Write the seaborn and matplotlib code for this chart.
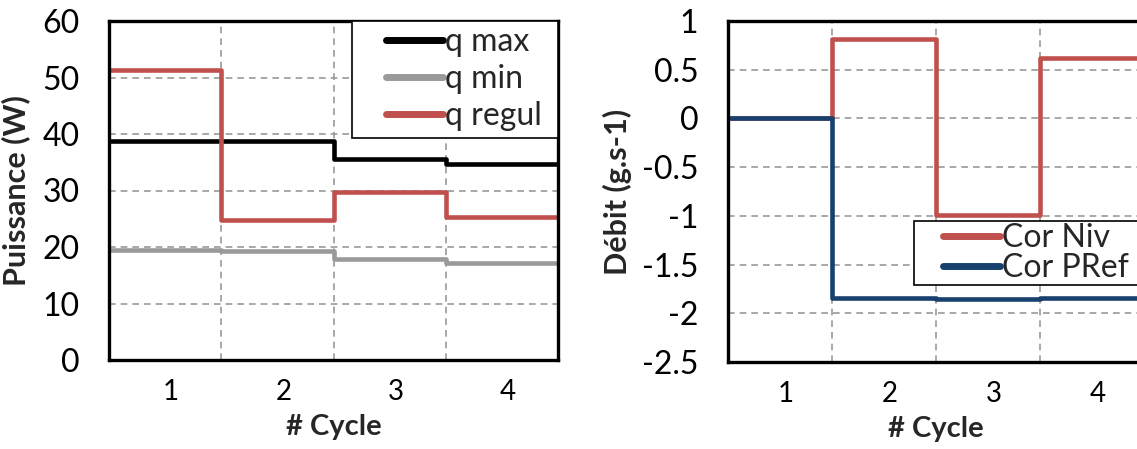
import numpy as np
import pandas as pd
import matplotlib
matplotlib.use("Agg")
import matplotlib.pyplot as plt
import matplotlib.transforms as mtransforms
from matplotlib.offsetbox import DrawingArea
import seaborn as sns

# data (one value per cycle)
cycles = [1, 2, 3, 4]
q_max = [38.8, 38.7, 35.5, 34.7]
q_min = [19.4, 19.3, 17.8, 17.2]
q_regul = [51.3, 24.8, 29.8, 25.3]
cor_niv = [0.0, 0.82, -0.99, 0.62]
cor_pref = [0.0, -1.84, -1.85, -1.84]

left_names = ["q max", "q min", "q regul"]
left_colors = {"q max": "#000000", "q min": "#9a9a9a", "q regul": "#c0504d"}
right_names = ["Cor Niv", "Cor PRef"]
right_colors = {"Cor Niv": "#c0504d", "Cor PRef": "#17406d"}


def step_frame(series):
    # each cycle value spans from cycle-0.5 to cycle+0.5
    edges = [c - 0.5 for c in cycles] + [cycles[-1] + 0.5]
    rows = []
    for name, vals in series.items():
        ys = list(vals) + [vals[-1]]
        for x, y in zip(edges, ys):
            rows.append({"cycle": x, "value": y, "serie": name})
    return pd.DataFrame(rows)


sns.set_theme(style="white")
plt.rcParams["font.family"] = ["Lato", "DejaVu Sans"]
FS = 23

fig = plt.figure(figsize=(11.37, 4.49), dpi=100)
W, H = 1137, 449
ax1 = fig.add_axes([109 / W, (H - 360) / H, 449 / W, 339 / H])
ax2 = fig.add_axes([727.5 / W, (H - 362) / H, 416 / W, 341 / H])

df1 = step_frame({"q max": q_max, "q min": q_min, "q regul": q_regul})
df2 = step_frame({"Cor Niv": cor_niv, "Cor PRef": cor_pref})

for name in left_names:
    sns.lineplot(data=df1[df1["serie"] == name], x="cycle", y="value", ax=ax1,
                 color=left_colors[name], lw=3.3, drawstyle="steps-post",
                 label=name, estimator=None, sort=False)
for name in right_names:
    sns.lineplot(data=df2[df2["serie"] == name], x="cycle", y="value", ax=ax2,
                 color=right_colors[name], lw=3.3, drawstyle="steps-post",
                 label=name, estimator=None, sort=False)

ax1.set_ylim(0, 60)
ax1.set_yticks(np.arange(0, 61, 10))
ax2.set_ylim(-2.5, 1)
ax2.set_yticks([-2.5, -2, -1.5, -1, -0.5, 0, 0.5, 1])
ax2.set_yticklabels(["-2.5", "-2", "-1.5", "-1", "-0.5", "0", "0.5", "1"])

shift = mtransforms.ScaledTranslation(0.06, 0, fig.dpi_scale_trans)
for ax in (ax1, ax2):
    ax.set_xlim(0.5, 4.5)
    ax.set_xticks(cycles)
    ax.set_xticks([1.5, 2.5, 3.5], minor=True)
    ax.grid(False)
    ax.grid(True, axis="y", which="major", ls=(0, (4, 3)), color="#9a9a9a", lw=1.2)
    ax.grid(True, axis="x", which="minor", ls=(0, (4, 3)), color="#9a9a9a", lw=1.2)
    ax.tick_params(axis="y", length=0, pad=21, labelsize=FS, colors="black")
    ax.tick_params(axis="x", which="both", length=0, pad=14, labelsize=FS - 3, colors="black")
    for lbl in ax.get_xticklabels():
        lbl.set_transform(lbl.get_transform() + shift)
    for s in ax.spines.values():
        s.set_visible(True)
        s.set_color("black")
        s.set_linewidth(2.4)
    ax.set_xlabel("# Cycle", fontsize=FS - 2, fontweight="bold", labelpad=6)

ax1.set_ylabel("Puissance (W)", fontsize=FS - 1, fontweight="bold", labelpad=9)
ax2.set_ylabel("Débit (g.s-1)", fontsize=FS - 1, fontweight="bold", labelpad=7)

leg_kw = dict(fontsize=FS, frameon=True, fancybox=False, framealpha=1,
              edgecolor="black", handlelength=2.65, handletextpad=0.05,
              borderaxespad=0)
leg1 = ax1.legend(loc="upper right", bbox_to_anchor=(1.0, 1.0),
                  labelspacing=0.22, borderpad=0.2, **leg_kw)
# right legend runs past the cropped edge of the picture
leg2 = ax2.legend(loc="upper left", bbox_to_anchor=(0.448, 0.413),
                  labelspacing=0.0, borderpad=0.06, **leg_kw)
for leg, right_pad in ((leg1, 6), (leg2, 30)):
    leg.get_frame().set_linewidth(1.2)
    # Excel-like legend: blank space before the short line sample
    for h in leg.get_lines():
        h.set_solid_capstyle("round")
        h.set_linewidth(5)
        xd = np.asarray(h.get_xdata(), dtype=float)
        yd = np.asarray(h.get_ydata(), dtype=float)
        x0, x1 = xd.min(), xd.max()
        h.set_data([x1 - (x1 - x0) * 0.68, x1], [yd[0], yd[0]])
    col = leg._legend_handle_box.get_children()[0]
    for row in col.get_children():
        row.get_children().append(DrawingArea(right_pad, 1))

fig.savefig("out.png", dpi=100)
